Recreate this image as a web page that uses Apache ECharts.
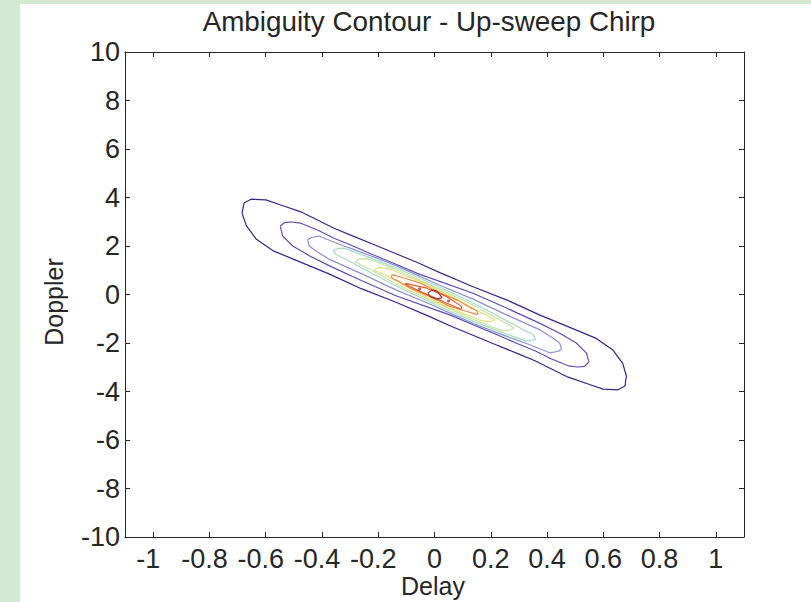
<!DOCTYPE html>
<html>
<head>
<meta charset="utf-8">
<script src="https://cdn.jsdelivr.net/npm/echarts@6/dist/echarts.min.js"></script>
<style>
  html, body { margin: 0; padding: 0; background: #d4e9d2; }
  #wrap { position: relative; width: 811px; height: 602px; background: #d4e9d2; overflow: hidden; }
  #chart { position: absolute; left: 20px; top: 4px; width: 791px; height: 598px; background: #fff; }
</style>
</head>
<body>
<div id="wrap"><div id="chart"></div></div>
<script>
// tick labels
const xTicks = [-1, -0.8, -0.6, -0.4, -0.2, 0, 0.2, 0.4, 0.6, 0.8, 1]
const yTicks = [-10, -8, -6, -4, -2, 0, 2, 4, 6, 8, 10]

// contour lines, outer -> inner, [delay, doppler]
const contour1 = [
  [-0.684, 3.36], [-0.677, 3.77], [-0.652, 3.93], [-0.599, 3.90], [-0.546, 3.69], [-0.475, 3.41], [-0.416, 3.07],
  [-0.357, 2.73], [-0.298, 2.45], [-0.216, 2.06], [-0.139, 1.69], [-0.061, 1.32], [0.021, 0.89], [0.137, 0.32],
  [0.258, -0.23], [0.375, -0.85], [0.498, -1.44], [0.575, -1.81], [0.634, -2.29], [0.669, -2.84], [0.682, -3.36],
  [0.677, -3.77], [0.652, -3.93], [0.599, -3.90], [0.546, -3.69], [0.475, -3.41], [0.416, -3.07], [0.357, -2.73],
  [0.298, -2.45], [0.216, -2.06], [0.139, -1.69], [0.061, -1.32], [-0.021, -0.89], [-0.137, -0.32], [-0.258, 0.23],
  [-0.375, 0.85], [-0.498, 1.44], [-0.575, 1.81], [-0.634, 2.29], [-0.669, 2.84], [-0.684, 3.36]
]
const contour2 = [
  [-0.548, 2.82], [-0.534, 2.96], [-0.510, 2.99], [-0.475, 2.94], [-0.416, 2.66], [-0.357, 2.32], [-0.298, 2.04],
  [-0.216, 1.63], [-0.139, 1.26], [-0.061, 0.87], [0.021, 0.53], [0.137, 0.05], [0.258, -0.57], [0.375, -1.19],
  [0.445, -1.60], [0.504, -2.00], [0.540, -2.42], [0.549, -2.78],
  [0.534, -2.96], [0.510, -2.99], [0.475, -2.94], [0.416, -2.66], [0.357, -2.32], [0.298, -2.04], [0.216, -1.63],
  [0.139, -1.26], [0.061, -0.87], [-0.021, -0.53], [-0.137, -0.05], [-0.258, 0.57], [-0.375, 1.19], [-0.445, 1.60],
  [-0.504, 2.00], [-0.540, 2.42], [-0.548, 2.82]
]
const contour3 = [
  [-0.451, 2.25], [-0.440, 2.34], [-0.411, 2.41], [-0.381, 2.27], [-0.322, 2.00], [-0.298, 1.90], [-0.216, 1.55],
  [-0.139, 1.20], [-0.061, 0.80], [0.021, 0.37], [0.137, -0.19], [0.258, -0.85], [0.375, -1.46], [0.421, -1.79],
  [0.445, -2.00], [0.451, -2.25],
  [0.440, -2.34], [0.411, -2.41], [0.381, -2.27], [0.322, -2.00], [0.298, -1.90], [0.216, -1.55], [0.139, -1.20],
  [0.061, -0.80], [-0.021, -0.37], [-0.137, 0.19], [-0.258, 0.85], [-0.375, 1.46], [-0.421, 1.79], [-0.445, 2.00],
  [-0.451, 2.25]
]
const contour4 = [
  [-0.359, 1.81], [-0.345, 1.90], [-0.322, 1.91], [-0.298, 1.81], [-0.216, 1.46], [-0.139, 1.11], [-0.061, 0.72],
  [0.021, 0.29], [0.137, -0.35], [0.258, -1.09], [0.314, -1.44], [0.350, -1.65], [0.359, -1.84],
  [0.345, -1.90], [0.322, -1.91], [0.298, -1.81], [0.216, -1.46], [0.139, -1.11], [0.061, -0.72], [-0.021, -0.29],
  [-0.137, 0.35], [-0.258, 1.09], [-0.314, 1.44], [-0.350, 1.65], [-0.359, 1.81]
]
const contour5 = [
  [-0.282, 1.36], [-0.270, 1.46], [-0.241, 1.48], [-0.210, 1.36], [-0.139, 1.03], [-0.061, 0.64], [0.021, 0.21],
  [0.137, -0.43], [0.215, -0.95], [0.261, -1.22], [0.282, -1.38],
  [0.270, -1.46], [0.241, -1.48], [0.210, -1.36], [0.139, -1.03], [0.061, -0.64], [-0.021, -0.21], [-0.137, 0.43],
  [-0.215, 0.95], [-0.261, 1.22], [-0.282, 1.36]
]
const contour6 = [
  [-0.216, 1.01], [-0.198, 1.12], [-0.164, 1.07], [-0.103, 0.78], [-0.050, 0.54], [0.021, 0.14], [0.091, -0.27],
  [0.162, -0.72], [0.198, -0.93], [0.215, -1.05],
  [0.198, -1.12], [0.164, -1.07], [0.103, -0.78], [0.050, -0.54], [-0.021, -0.14], [-0.091, 0.27], [-0.162, 0.72],
  [-0.198, 0.93], [-0.216, 1.01]
]
const contour7 = [
  [-0.154, 0.72], [-0.150, 0.82], [-0.109, 0.68], [-0.050, 0.47], [0.009, 0.12], [0.080, -0.23], [0.127, -0.54],
  [0.148, -0.66], [0.155, -0.78],
  [0.150, -0.82], [0.109, -0.68], [0.050, -0.47], [-0.009, -0.12], [-0.080, 0.23], [-0.127, 0.54], [-0.148, 0.66],
  [-0.154, 0.72]
]
const contour8 = [
  [-0.103, 0.46], [-0.027, 0.26], [0.044, -0.09], [0.097, -0.50], [0.094, -0.61], [0.032, -0.30], [-0.050, 0.12],
  [-0.103, 0.42], [-0.103, 0.46]
]
const contour9 = [
  [-0.024, 0.05], [-0.009, 0.19], [0.009, 0.14], [0.027, -0.13], [0.009, -0.19], [-0.015, -0.09], [-0.024, 0.05]
]
const peakDots = [[-0.053, 0.23], [0.050, -0.27]]

const contours = [contour1, contour2, contour3, contour4, contour5, contour6, contour7, contour8, contour9]
const levelColors = ['#2f2a8c', '#5a4fb2', '#8c92d2', '#a6dcc4', '#c6e4a0', '#e4e27c', '#f28a44', '#e25a2c', '#a8302c']

const axisColor = '#262626'
const fontFamily = 'Liberation Sans, Arial, sans-serif'

const chart = echarts.init(document.getElementById('chart'), null, { renderer: 'svg' })

const boxAxis = (extra) => Object.assign({
  axisLine: { show: true, onZero: false, lineStyle: { color: axisColor, width: 1 } },
  axisTick: { show: true, inside: true, length: 5, lineStyle: { color: axisColor } },
  splitLine: { show: false }
}, extra)

const series = contours.map((pts, i) => ({
  type: 'line',
  data: pts,
  showSymbol: false,
  symbol: 'none',
  smooth: false,
  silent: true,
  lineStyle: { color: levelColors[i], width: 1.2 },
  z: 2 + i
}))
series.push({
  type: 'scatter',
  data: peakDots,
  symbolSize: 3,
  itemStyle: { color: levelColors[8] },
  silent: true,
  z: 20
})

const tickFont = { fontSize: 27, color: axisColor, fontFamily }

const option = {
  animation: false,
  backgroundColor: '#ffffff',
  grid: { left: 105, right: 67, top: 48, bottom: 65 },
  xAxis: [
    boxAxis({
      type: 'value', position: 'bottom', min: -1.1, max: 1.1,
      axisTick: { show: true, inside: true, length: 5, lineStyle: { color: axisColor }, customValues: xTicks },
      axisLabel: {
        customValues: xTicks, ...tickFont, margin: 8,
        // minus-signed labels sit a little left of their tick, as in the original
        formatter: (v) => (v < 0 ? '{neg|' + v + '}' : '{pos|' + v + '}'),
        rich: {
          neg: { ...tickFont, padding: [0, 10, 0, 0] },
          pos: { ...tickFont }
        }
      }
    }),
    boxAxis({
      type: 'value', position: 'top', min: -1.1, max: 1.1,
      axisTick: { show: true, inside: true, length: 5, lineStyle: { color: axisColor }, customValues: xTicks },
      axisLabel: { show: false }
    })
  ],
  yAxis: [
    boxAxis({
      type: 'value', position: 'left', min: -10, max: 10, interval: 2,
      axisLabel: { ...tickFont, margin: 5 }
    }),
    boxAxis({
      type: 'value', position: 'right', min: -10, max: 10, interval: 2,
      axisLabel: { show: false }
    })
  ],
  graphic: [
    {
      type: 'text', x: 409, y: 17,
      style: { text: 'Ambiguity Contour - Up-sweep Chirp', font: '27.8px ' + fontFamily, fill: axisColor, textAlign: 'center', textVerticalAlign: 'middle' }
    },
    {
      type: 'text', x: 413, y: 582,
      style: { text: 'Delay', font: '25px ' + fontFamily, fill: axisColor, textAlign: 'center', textVerticalAlign: 'middle' }
    },
    {
      type: 'text', x: 34, y: 298, rotation: Math.PI / 2,
      style: { text: 'Doppler', font: '25px ' + fontFamily, fill: axisColor, textAlign: 'center', textVerticalAlign: 'middle' }
    }
  ],
  series
}

chart.setOption(option)
</script>
</body>
</html>
